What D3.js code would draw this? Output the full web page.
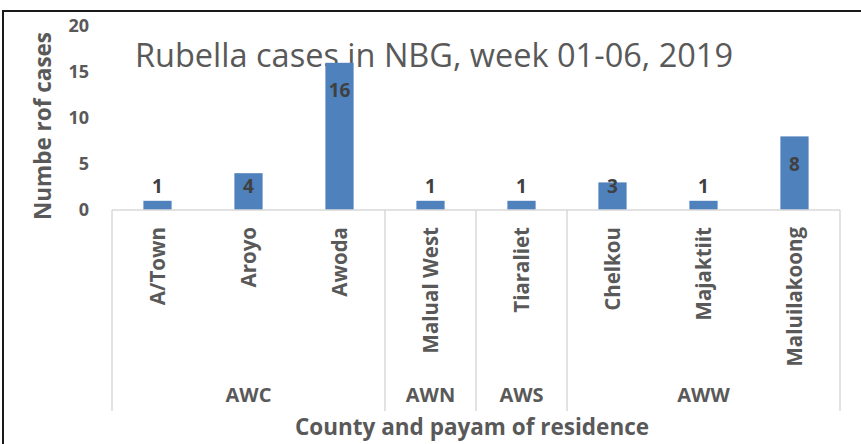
<!DOCTYPE html>
<html>
<head>
<meta charset="utf-8">
<script src="https://cdn.jsdelivr.net/npm/d3@7"></script>
<style>
  body { margin: 0; background: #fff; }
  text { font-family: "Open Sans", Calibri, sans-serif; }
</style>
</head>
<body>
<svg id="chart"></svg>
<script>
const payams = ["A/Town", "Aroyo", "Awoda", "Malual West", "Tiaraliet", "Chelkou", "Majaktiit", "Maluilakoong"]
const counties = ["AWC", "AWC", "AWC", "AWN", "AWS", "AWW", "AWW", "AWW"]
const cases = [1, 4, 16, 1, 1, 3, 1, 8]
const yTicks = [0, 5, 10, 15, 20]

const width = 861, height = 444
const margin = {top: 26, right: 21, bottom: 234, left: 112}

const svg = d3.select("#chart")
    .attr("width", width)
    .attr("height", height)

// outer frame
svg.append("rect")
    .attr("x", 3).attr("y", 11)
    .attr("width", 900).attr("height", 500)
    .attr("fill", "none")
    .attr("stroke", "#1a1a1a")
    .attr("stroke-width", 2)

const x = d3.scaleBand()
    .domain(d3.range(payams.length))
    .range([margin.left, width - margin.right])
    .paddingInner(0).paddingOuter(0)

const y = d3.scaleLinear()
    .domain([0, 20])
    .range([height - margin.bottom, margin.top])

const barW = x.bandwidth() * 0.31
const gray = "#595959"

// title
svg.append("text")
    .attr("x", 434).attr("y", 67)
    .attr("text-anchor", "middle")
    .style("font-size", "32.5px")
    .style("fill", gray)
    .text("Rubella cases in NBG, week 01-06, 2019")

// y axis
const yAxis = svg.append("g")
    .attr("transform", `translate(${margin.left - 23},0)`)
    .call(d3.axisLeft(y).tickValues(yTicks).tickSize(0).tickPadding(0))
yAxis.select(".domain").remove()
yAxis.selectAll("text")
    .attr("font-family", null)
    .style("font-size", "18px")
    .style("font-weight", "bold")
    .style("fill", gray)

svg.append("text")
    .attr("transform", `translate(43,${(y(0) + y(20)) / 2 + 8}) rotate(-90)`)
    .attr("text-anchor", "middle")
    .attr("dy", "0.35em")
    .style("font-size", "22.5px")
    .style("font-weight", "bold")
    .style("fill", gray)
    .text("Numbe rof cases")

// bars
svg.append("g").selectAll("rect")
    .data(cases)
    .join("rect")
    .attr("x", (d, i) => x(i) + (x.bandwidth() - barW) / 2)
    .attr("y", d => y(d))
    .attr("width", barW)
    .attr("height", d => y(0) - y(d))
    .attr("fill", "#4F81BD")

// data labels (inside end, pushed above for short bars)
svg.append("g").selectAll("text")
    .data(cases)
    .join("text")
    .attr("x", (d, i) => x(i) + x.bandwidth() / 2)
    .attr("y", d => Math.min(y(d) + 28, y(0) - 24))
    .attr("dy", "0.35em")
    .attr("text-anchor", "middle")
    .style("font-size", "19px")
    .style("font-weight", "bold")
    .style("fill", "#404040")
    .text(d => d)

// category axis: baseline and separators
const axisBottom = height - margin.bottom
const axisEnd = 411
const grid = svg.append("g").attr("stroke", "#D9D9D9").attr("stroke-width", 1.5)
grid.append("line")
    .attr("x1", x.range()[0]).attr("x2", x.range()[1])
    .attr("y1", axisBottom).attr("y2", axisBottom)

// group spans from county array
const groups = []
counties.forEach((c, i) => {
    const last = groups[groups.length - 1]
    if (last && last.name === c) last.end = i
    else groups.push({name: c, start: i, end: i})
})

const bounds = [x(0)].concat(groups.map(g => x(g.end) + x.bandwidth()))
grid.selectAll("line.sep")
    .data(bounds)
    .join("line")
    .attr("class", "sep")
    .attr("x1", d => d).attr("x2", d => d)
    .attr("y1", axisBottom).attr("y2", axisEnd)

// payam labels
svg.append("g").selectAll("text")
    .data(payams)
    .join("text")
    .attr("transform", (d, i) => `translate(${x(i) + x.bandwidth() / 2},${axisBottom + 17}) rotate(-90)`)
    .attr("text-anchor", "end")
    .attr("dy", "0.35em")
    .style("font-size", "20.5px")
    .style("font-weight", "bold")
    .style("fill", gray)
    .text(d => d)

// county labels
svg.append("g").selectAll("text")
    .data(groups)
    .join("text")
    .attr("x", g => (x(g.start) + x(g.end) + x.bandwidth()) / 2)
    .attr("y", 395)
    .attr("dy", "0.35em")
    .attr("text-anchor", "middle")
    .style("font-size", "20px")
    .style("font-weight", "bold")
    .style("fill", gray)
    .text(g => g.name)

svg.append("text")
    .attr("x", 472).attr("y", 427)
    .attr("dy", "0.35em")
    .attr("text-anchor", "middle")
    .style("font-size", "22.5px")
    .style("font-weight", "bold")
    .style("fill", gray)
    .text("County and payam of residence")
</script>
</body>
</html>
